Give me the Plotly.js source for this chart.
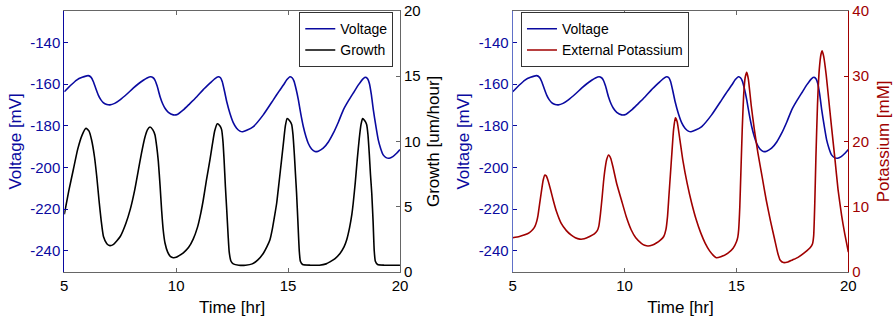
<!DOCTYPE html>
<html>
<head>
<meta charset="utf-8">
<script src="https://cdn.plot.ly/plotly-3.0.1.min.js"></script>
<style>html,body{margin:0;padding:0;background:#fff}#chart{width:893px;height:321px}</style>
</head>
<body>
<div id="chart"></div>
<script>
// Time (hr) and membrane voltage (mV)
const timeVoltage = [5.0,5.3,5.55,5.8,6.07,6.2,6.3,6.42,6.52,6.63,6.74,6.9,7.04,7.25,7.49,7.8,8.08,8.3,8.53,8.7,8.86,8.97,9.05,9.15,9.28,9.4,9.5,9.65,9.87,10.05,10.32,10.6,10.92,11.2,11.51,11.72,11.88,11.98,12.06,12.16,12.26,12.4,12.55,12.7,12.85,12.97,13.15,13.45,13.89,14.34,14.6,14.79,14.95,15.08,15.18,15.26,15.36,15.46,15.57,15.68,15.8,15.9,16.05,16.2,16.35,16.57,16.8,17.02,17.25,17.47,17.7,17.91,18.15,18.36,18.47,18.56,18.63,18.72,18.81,18.92,19.03,19.14,19.25,19.38,19.52,19.68,19.85,20.0];
const voltage = [-163.7,-160.5,-158.1,-156.8,-156.0,-156.8,-158.9,-162.5,-165.3,-167.5,-168.9,-169.8,-170.0,-169.3,-167.6,-164.8,-162.0,-160.0,-158.2,-157.1,-156.5,-157.0,-158.1,-161.0,-166.1,-169.6,-171.6,-173.6,-174.8,-174.6,-172.4,-169.5,-166.1,-162.8,-159.6,-157.5,-156.5,-157.0,-158.9,-163.5,-168.5,-174.0,-178.5,-181.2,-182.6,-182.9,-182.2,-180.4,-174.8,-167.6,-163.4,-160.5,-157.9,-156.5,-157.0,-158.5,-162.5,-167.6,-174.5,-180.4,-185.3,-188.4,-191.2,-192.4,-192.2,-190.8,-187.8,-183.6,-178.2,-172.4,-168.0,-164.4,-160.3,-157.4,-156.8,-157.6,-159.6,-165.0,-172.4,-180.0,-186.8,-191.0,-194.0,-195.3,-195.6,-194.8,-193.2,-191.4];

// Time (hr) and growth (um/hour)
const timeGrowth = [5.0,5.2,5.4,5.6,5.8,5.97,6.1,6.22,6.35,6.45,6.55,6.65,6.75,6.9,7.04,7.2,7.5,7.75,7.95,8.15,8.3,8.45,8.6,8.72,8.83,8.95,9.05,9.13,9.2,9.28,9.35,9.42,9.5,9.62,9.75,9.87,10.0,10.15,10.32,10.55,10.76,10.95,11.1,11.21,11.35,11.51,11.62,11.72,11.84,11.95,12.03,12.09,12.14,12.2,12.26,12.32,12.37,12.45,12.55,12.8,13.1,13.4,13.65,13.89,14.05,14.19,14.3,14.4,14.49,14.6,14.71,14.8,14.88,14.96,15.06,15.16,15.22,15.28,15.33,15.38,15.44,15.5,15.55,15.65,16.0,16.4,16.7,16.87,17.1,17.32,17.5,17.62,17.75,17.85,17.91,18.0,18.09,18.18,18.26,18.33,18.42,18.51,18.57,18.63,18.68,18.74,18.8,18.85,18.9,19.0,19.3,20.0];
const growth = [4.4,6.2,7.8,9.4,10.5,11.0,10.8,10.1,8.8,7.3,5.5,3.9,2.7,2.15,2.0,2.1,2.7,3.7,4.8,6.3,7.7,9.1,10.3,10.9,11.1,10.9,10.5,9.6,8.5,6.6,4.7,3.2,2.2,1.5,1.15,1.07,1.1,1.25,1.45,1.85,2.5,3.4,4.5,5.5,7.0,8.6,9.8,10.8,11.35,11.2,10.9,10.0,8.6,6.5,4.7,2.8,1.5,0.8,0.6,0.5,0.5,0.6,0.9,1.4,1.9,2.45,3.3,4.3,5.25,6.9,8.6,10.0,11.2,11.75,11.6,11.3,10.5,9.0,7.5,6.0,3.8,1.6,0.8,0.55,0.5,0.5,0.6,0.75,1.0,1.4,1.9,2.45,3.4,4.4,5.25,6.8,8.6,10.2,11.3,11.75,11.6,11.3,10.5,9.0,7.5,6.0,3.8,1.6,0.8,0.55,0.5,0.5];

// Time (hr) and external potassium (mM)
const timePotassium = [5.0,5.3,5.54,5.75,5.91,6.0,6.08,6.13,6.2,6.28,6.36,6.43,6.5,6.58,6.7,6.81,6.95,7.17,7.4,7.62,7.8,8.0,8.2,8.44,8.65,8.78,8.85,8.92,9.0,9.06,9.13,9.2,9.29,9.38,9.48,9.65,9.86,10.08,10.3,10.5,10.75,10.9,11.05,11.25,11.42,11.6,11.75,11.85,11.92,11.98,12.05,12.12,12.19,12.27,12.35,12.45,12.6,12.8,13.0,13.2,13.4,13.6,13.8,14.0,14.1,14.3,14.62,14.85,15.0,15.06,15.1,15.15,15.2,15.26,15.32,15.39,15.46,15.53,15.66,15.8,15.96,16.15,16.33,16.52,16.71,16.85,16.95,17.1,17.3,17.5,17.75,18.07,18.3,18.4,18.45,18.5,18.55,18.62,18.7,18.78,18.83,18.9,19.01,19.12,19.24,19.4,19.54,19.7,19.84,20.0];
const potassium = [5.2,5.4,5.65,6.0,6.5,7.0,7.8,8.6,10.3,12.2,14.0,14.8,14.7,14.0,12.5,11.0,9.3,7.4,6.3,5.6,5.2,5.0,5.05,5.4,5.8,6.3,7.0,8.8,11.5,13.8,15.8,17.2,17.9,17.4,16.1,13.5,11.0,8.4,6.4,5.2,4.36,4.05,3.94,4.1,4.4,4.85,5.4,6.5,8.5,11.5,15.0,18.5,21.8,23.6,23.0,20.8,17.2,13.5,10.5,8.0,6.0,4.4,3.2,2.4,2.15,2.3,2.85,3.6,4.6,5.3,6.5,10.0,15.5,22.0,27.0,29.8,30.6,29.6,25.5,21.8,18.2,14.5,11.0,7.8,4.9,2.8,1.8,1.4,1.5,1.8,2.2,3.0,3.7,4.3,5.5,10.5,17.5,25.5,31.0,33.4,33.9,33.0,30.2,26.5,22.5,17.3,12.6,8.6,5.8,3.0];

const xTicks = [5, 10, 15, 20];
const voltageTicks = [-240, -220, -200, -180, -160, -140];
const growthTicks = [0, 5, 10, 15, 20];
const potassiumTicks = [0, 10, 20, 30, 40];

const BLUE = '#0a0aa0';
const RED = '#a00000';
const GRAY = '#666666';
const FONT = 'Liberation Sans, Arial, Helvetica, sans-serif';
const SMOOTH = 0.5;

const traces = [
  {x: timeVoltage, y: voltage, xaxis: 'x', yaxis: 'y', name: 'Voltage', mode: 'lines',
   line: {color: BLUE, width: 1.6, shape: 'spline', smoothing: SMOOTH}, legend: 'legend'},
  {x: timeGrowth, y: growth, xaxis: 'x', yaxis: 'y2', name: 'Growth', mode: 'lines',
   line: {color: '#000000', width: 1.6, shape: 'spline', smoothing: SMOOTH}, legend: 'legend'},
  {x: timeVoltage, y: voltage, xaxis: 'x2', yaxis: 'y3', name: 'Voltage', mode: 'lines',
   line: {color: BLUE, width: 1.6, shape: 'spline', smoothing: SMOOTH}, legend: 'legend2'},
  {x: timePotassium, y: potassium, xaxis: 'x2', yaxis: 'y4', name: 'External Potassium', mode: 'lines',
   line: {color: RED, width: 1.6, shape: 'spline', smoothing: SMOOTH}, legend: 'legend2'}
];

const yDom = [0.1536, 0.9657];
function xAxis(domain, anchor) {
  return {
    domain: domain, anchor: anchor, range: [5, 20], tickvals: xTicks, ticktext: xTicks.map(String),
    ticks: 'inside', ticklen: 4, tickcolor: GRAY, showline: true, linecolor: GRAY, linewidth: 1,
    mirror: 'ticks', showgrid: false, zeroline: false, automargin: false,
    tickfont: {size: 15, color: '#000'},
    title: {text: 'Time [hr]', font: {size: 17, color: '#000'}, standoff: 8}
  };
}
function yLeft(anchor, lineColor) {
  return {
    domain: yDom, anchor: anchor, side: 'left', range: [-250, -125], tickvals: voltageTicks,
    ticktext: voltageTicks.map(String),
    ticks: 'inside', ticklen: 4, tickcolor: BLUE, showline: true, linecolor: lineColor, linewidth: 1,
    showgrid: false, zeroline: false, automargin: false,
    tickfont: {size: 15, color: BLUE},
    title: {text: 'Voltage [mV]', font: {size: 17, color: BLUE}, standoff: 4}
  };
}
function yRight(anchor, overlay, range, ticks, title, color, lineColor, standoff) {
  return {
    anchor: anchor, overlaying: overlay, side: 'right', range: range, tickvals: ticks,
    ticktext: ticks.map(String),
    ticks: 'inside', ticklen: 4, tickcolor: lineColor, showline: true, linecolor: lineColor, linewidth: 1,
    showgrid: false, zeroline: false, automargin: false,
    tickfont: {size: 15, color: color},
    title: {text: title, font: {size: 17, color: color}, standoff: standoff}
  };
}

const layout = {
  width: 893, height: 321,
  margin: {l: 0, r: 0, t: 0, b: 0},
  paper_bgcolor: '#fff', plot_bgcolor: '#fff',
  font: {family: FONT, size: 15, color: '#000'},
  showlegend: true,
  xaxis: xAxis([0.072, 0.4479], 'y'),
  yaxis: yLeft('x', BLUE),
  yaxis2: yRight('x', 'y', [0, 20], growthTicks, 'Growth [um/hour]', '#000', GRAY, 7),
  xaxis2: xAxis([0.5741, 0.95], 'y3'),
  yaxis3: yLeft('x2', '#6070c8'),
  yaxis4: yRight('x2', 'y3', [0, 40], potassiumTicks, 'Potassium [mM]', RED, RED, 11),
  legend: {x: 0.4404, xanchor: 'right', y: 0.962, yanchor: 'top', bgcolor: '#fff',
    bordercolor: '#333', borderwidth: 1, font: {size: 14, color: '#000'}, tracegroupgap: 0,
    itemwidth: 30},
  legend2: {x: 0.5834, xanchor: 'left', y: 0.962, yanchor: 'top', bgcolor: '#fff',
    bordercolor: '#333', borderwidth: 1, font: {size: 14, color: '#000'}, tracegroupgap: 0,
    itemwidth: 30}
};

Plotly.newPlot('chart', traces, layout, {displayModeBar: false, staticPlot: true});
</script>
</body>
</html>
